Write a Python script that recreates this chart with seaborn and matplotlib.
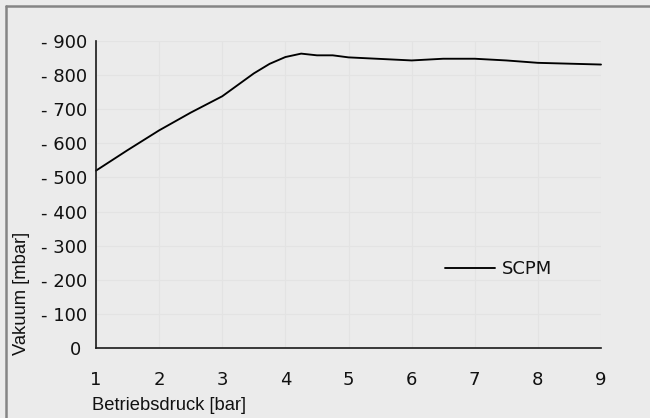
import matplotlib
matplotlib.use("Agg")
import matplotlib.pyplot as plt
from matplotlib.lines import Line2D
import seaborn as sns
import pandas as pd

# Data
pressure_bar = [1, 1.5, 2, 2.5, 3, 3.5, 3.75, 4, 4.25, 4.5, 4.75, 5, 6, 6.5, 7, 7.5, 8, 9]
vacuum_mbar = [520, 580, 638, 690, 738, 805, 833, 853, 863, 858, 858, 852, 843, 848, 848, 843, 836, 831]
series_name = "SCPM"
x_ticks = [1, 2, 3, 4, 5, 6, 7, 8, 9]
y_ticks = [0, 100, 200, 300, 400, 500, 600, 700, 800, 900]
y_tick_labels = ["0 ", "- 100", "- 200", "- 300", "- 400", "- 500", "- 600", "- 700", "- 800", "- 900"]
x_label = "Betriebsdruck [bar]"
y_label = "Vakuum [mbar]"

df = pd.DataFrame({"x": pressure_bar, "y": vacuum_mbar})

sns.set_theme(style="white")
plt.rcParams["font.family"] = ["Liberation Sans", "DejaVu Sans"]

bg = "#ebebeb"
fig = plt.figure(figsize=(6.5, 4.18), dpi=100, facecolor=bg)
ax = fig.add_axes([96 / 650, 1 - 348 / 418, 505 / 650, 307 / 418])
ax.set_facecolor(bg)

sns.lineplot(data=df, x="x", y="y", ax=ax, color="black", linewidth=1.35,
             label=series_name, clip_on=False)

ax.set_xlim(1, 9)
ax.set_ylim(0, 900)
ax.set_xticks(x_ticks)
ax.set_xticklabels([str(t) for t in x_ticks])
ax.set_yticks(y_ticks)
ax.set_yticklabels(y_tick_labels)
ax.set_xlabel("")
ax.set_ylabel("")

ax.grid(True, color="#e3e3e3", linewidth=0.8)
ax.set_axisbelow(True)

for s in ["top", "right"]:
    ax.spines[s].set_visible(False)
for s in ["left", "bottom"]:
    ax.spines[s].set_color("#1a1a1a")
    ax.spines[s].set_linewidth(1.2)

ax.tick_params(axis="x", direction="out", length=4, width=1.2, color="#1a1a1a",
               pad=12.5, labelsize=13, labelcolor="#111111")
ax.tick_params(axis="y", direction="out", length=5.5, width=1.2, color="#1a1a1a",
               pad=1, labelsize=13, labelcolor="#111111")
for lab in ax.get_xticklabels() + ax.get_yticklabels():
    lab.set_fontfamily(["DejaVu Sans"])

leg = ax.legend(loc="center left", bbox_to_anchor=((445 - 96) / 505, (348 - 269) / 307),
                frameon=False, fontsize=13, handlelength=2.75, handletextpad=0.4,
                borderpad=0, borderaxespad=0)
for t in leg.get_texts():
    t.set_fontfamily(["DejaVu Sans"])
    t.set_color("#111111")

fig.text(92 / 650, 1 - 405 / 418, x_label, ha="left", va="center", fontsize=13.2,
         family=["Liberation Sans"], color="#111111")
fig.text(22 / 650, 1 - 355 / 418, y_label, ha="center", va="bottom", rotation=90,
         fontsize=13.2, family=["Liberation Sans"], color="#111111")

# Frame edges at top and left
fig.add_artist(Line2D([6 / 650, 1], [1 - 6 / 418, 1 - 6 / 418], transform=fig.transFigure,
                      color="#858585", linewidth=1.8))
fig.add_artist(Line2D([6 / 650, 6 / 650], [0, 1 - 6 / 418], transform=fig.transFigure,
                      color="#858585", linewidth=1.8))

fig.savefig("out.png", dpi=100, facecolor=bg)
